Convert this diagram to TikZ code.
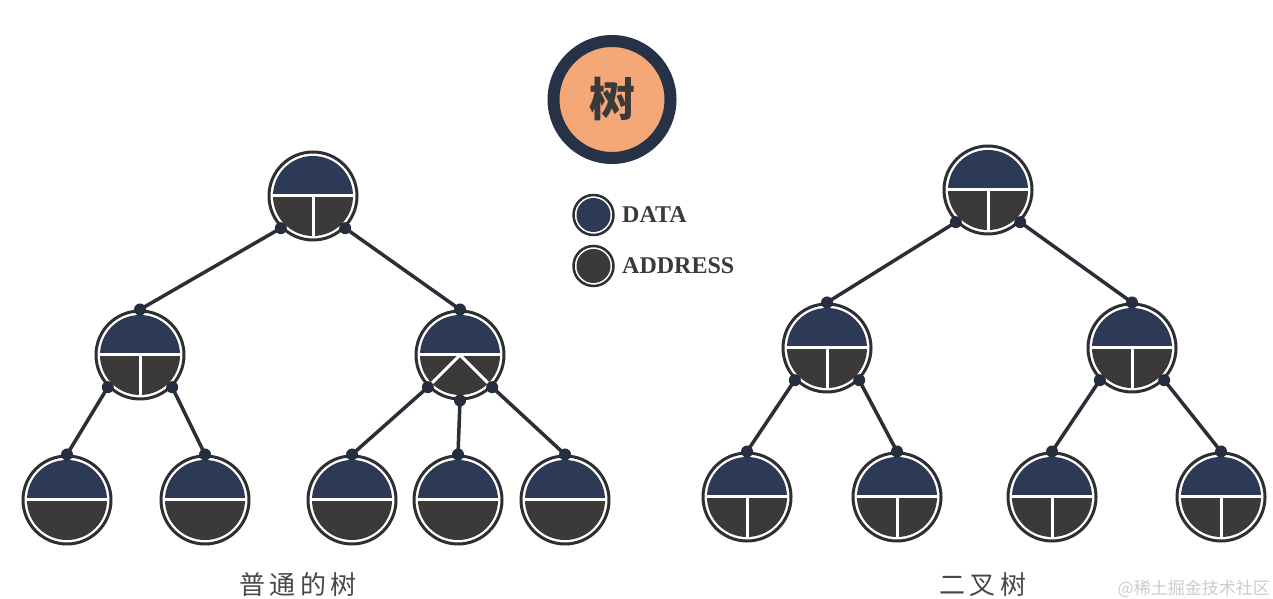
\documentclass[tikz,border=0pt]{standalone}
\usepackage{fontspec}
\setmainfont{Liberation Serif}
\newfontfamily\cjk{Noto Sans CJK SC}
\definecolor{ringc}{HTML}{2E2E33}
\definecolor{navyc}{HTML}{2C3A56}
\definecolor{grayc}{HTML}{3C3939}
\definecolor{linec}{HTML}{2B2E36}
\definecolor{dotcol}{HTML}{262D3D}
\definecolor{topring}{HTML}{283246}
\definecolor{orangec}{HTML}{F4A877}
\definecolor{txtc}{HTML}{3A3A3A}
\definecolor{lblc}{HTML}{484848}
\tikzset{
  tn/.style={circle, minimum size=88pt, inner sep=0pt, draw=ringc, line width=3pt, fill=white},
  ln/.style={circle, minimum size=40pt, inner sep=0pt, draw=ringc, line width=2.5pt, fill=white},
  conn/.style={draw=linec, line width=3.5pt},
  dotc/.style={fill=dotcol},
  divider/.style={draw=white, line width=3pt},
}
% interior of a tree node: #1 name, #2 extra divider code
\newcommand\tint[2]{%
  \begin{scope}[shift={(#1.center)}]
    \fill[navyc] (-40pt,0pt) arc[start angle=180,end angle=0,radius=40pt] -- cycle;
    \fill[grayc] (-40pt,0pt) arc[start angle=180,end angle=360,radius=40pt] -- cycle;
    \draw[divider] (-41.5pt,0pt) -- (41.5pt,0pt);
    #2
  \end{scope}}
\newcommand\Tdiv{\draw[divider] (0pt,0pt) -- (0pt,-41.5pt);}
\newcommand\Vdiv{\draw[divider] (0pt,0pt) -- (-135:41.5pt); \draw[divider] (0pt,0pt) -- (-45:41.5pt);}
\newcommand\tdot[1]{\fill[dotc] (#1) circle[radius=6pt];}
\begin{document}
\begin{tikzpicture}[x=1pt,y=1pt]
\useasboundingbox (0,0) rectangle (1273,599);
\fill[white] (0,0) rectangle (1273,599);

% title circle
\node[circle, minimum size=117pt, inner sep=0pt, draw=topring, line width=12pt, fill=orangec, text=txtc]
  (title) at (612,499.5) {\cjk\bfseries\fontsize{46}{46}\selectfont 树};

% legend
\node[ln] (ld) at (593.5,384) {};
\fill[navyc] (ld.center) circle[radius=17pt];
\node[ln] (la) at (593.5,333) {};
\fill[grayc] (la.center) circle[radius=17pt];
\node[anchor=west, text=txtc, inner sep=0pt] (tdata) at (622,384) {\fontsize{24}{24}\selectfont\bfseries DATA};
\node[anchor=west, text=txtc, inner sep=0pt] (taddr) at (622,333) {\fontsize{24}{24}\selectfont\bfseries ADDRESS};

% ---------- ordinary tree ----------
\node[tn] (A) at (313,403) {};  \tint{A}{\Tdiv}
\node[tn] (B) at (140,244) {};  \tint{B}{\Tdiv}
\node[tn] (C) at (460,244) {};  \tint{C}{\Vdiv}
\node[tn] (D1) at (67,99) {};   \tint{D1}{}
\node[tn] (D2) at (205,99) {};  \tint{D2}{}
\node[tn] (E1) at (352,99) {};  \tint{E1}{}
\node[tn] (E2) at (458,99) {};  \tint{E2}{}
\node[tn] (E3) at (565,99) {};  \tint{E3}{}

\draw[conn] (A.-135) -- (B.90);
\draw[conn] (A.-45) -- (C.90);
\draw[conn] (B.-135) -- (D1.90);
\draw[conn] (B.-45) -- (D2.90);
\draw[conn] (C.-135) -- (E1.90);
\draw[conn] (C.-90) -- (E2.90);
\draw[conn] (C.-45) -- (E3.90);
\foreach \p in {A.-135,A.-45,B.90,C.90,B.-135,B.-45,C.-135,C.-90,C.-45,D1.90,D2.90,E1.90,E2.90,E3.90}
  {\tdot{\p}}

\node[text=lblc, inner sep=0pt] (lab1) at (298,14) {\cjk\fontsize{26}{26}\selectfont 普\,通\,的\,树};

% ---------- binary tree ----------
\node[tn] (R) at (988,409) {};   \tint{R}{\Tdiv}
\node[tn] (S) at (827,251) {};   \tint{S}{\Tdiv}
\node[tn] (T) at (1132,251) {};  \tint{T}{\Tdiv}
\node[tn] (F1) at (747,102) {};  \tint{F1}{\Tdiv}
\node[tn] (F2) at (897,102) {};  \tint{F2}{\Tdiv}
\node[tn] (G1) at (1052,102) {}; \tint{G1}{\Tdiv}
\node[tn] (G2) at (1221,102) {}; \tint{G2}{\Tdiv}

\draw[conn] (R.-135) -- (S.90);
\draw[conn] (R.-45) -- (T.90);
\draw[conn] (S.-135) -- (F1.90);
\draw[conn] (S.-45) -- (F2.90);
\draw[conn] (T.-135) -- (G1.90);
\draw[conn] (T.-45) -- (G2.90);
\foreach \p in {R.-135,R.-45,S.90,T.90,S.-135,S.-45,T.-135,T.-45,F1.90,F2.90,G1.90,G2.90}
  {\tdot{\p}}

\node[text=lblc, inner sep=0pt] (lab2) at (983,14) {\cjk\fontsize{26}{26}\selectfont 二\,叉\,树};

% watermark
\node[anchor=east, text=black!20, inner sep=0pt] (wm) at (1270,10) {\cjk\fontsize{17}{17}\selectfont @稀土掘金技术社区};
\end{tikzpicture}
\end{document}
